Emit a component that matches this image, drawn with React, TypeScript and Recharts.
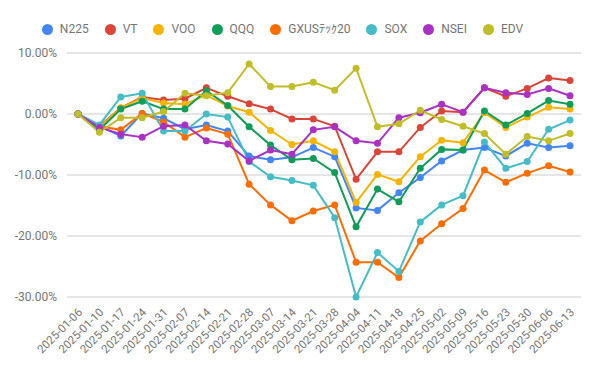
import React from 'react';
import { LineChart, Line, XAxis, YAxis, CartesianGrid, Legend } from 'recharts';

const dates = [
  '2025-01-06', '2025-01-10', '2025-01-17', '2025-01-24', '2025-01-31', '2025-02-07',
  '2025-02-14', '2025-02-21', '2025-02-28', '2025-03-07', '2025-03-14', '2025-03-21',
  '2025-03-28', '2025-04-04', '2025-04-11', '2025-04-18', '2025-04-25', '2025-05-02',
  '2025-05-09', '2025-05-16', '2025-05-23', '2025-05-30', '2025-06-06', '2025-06-13',
];

// 週次リターン (%)
const n225 = [0, -2.0, -3.6, 0.1, -0.7, -2.5, -1.8, -2.8, -6.9, -7.5, -7.1, -5.5, -7.0, -15.4, -15.8, -12.9, -10.4, -7.7, -5.9, -5.5, -6.9, -4.8, -5.5, -5.2];
const vt = [0, -2.0, 1.0, 2.8, 2.3, 2.5, 4.3, 2.9, 1.7, 0.8, -0.8, -0.8, -2.0, -10.7, -6.2, -6.2, -2.2, 0.5, 0.3, 4.3, 2.9, 4.2, 5.9, 5.5];
const voo = [0, -2.2, 1.0, 2.6, 1.8, 1.6, 3.1, 1.3, 0.3, -2.7, -5.0, -4.4, -6.2, -14.5, -9.9, -11.1, -7.0, -4.3, -4.7, 0.2, -2.2, -0.5, 1.1, 0.8];
const qqq = [0, -2.6, 0.8, 2.1, 0.8, 0.8, 3.8, 1.4, -2.1, -5.1, -7.5, -7.3, -9.6, -18.5, -12.3, -14.4, -8.9, -5.8, -5.9, 0.5, -1.8, 0.1, 2.2, 1.6];
const gxus = [0, -2.0, -2.6, 0.1, -1.3, -3.8, -2.3, -3.3, -11.5, -14.9, -17.5, -15.9, -14.9, -24.3, -24.3, -26.8, -20.8, -18.0, -15.5, -9.2, -11.2, -9.7, -8.5, -9.5];
const sox = [0, -1.8, 2.8, 3.4, -2.8, -2.8, 0, -0.5, -7.8, -10.3, -10.9, -11.7, -17.0, -30.0, -22.7, -25.8, -17.7, -14.9, -13.4, -4.6, -8.9, -7.8, -2.5, -1.0];
const nsei = [0, -2.2, -3.3, -3.8, -2.0, -1.8, -4.4, -4.9, -7.7, -5.9, -6.6, -2.6, -2.1, -4.4, -4.8, -0.6, 0.2, 1.6, 0.3, 4.3, 3.5, 3.2, 4.2, 3.0];
const edv = [0, -3.0, -0.6, -0.6, 0.4, 3.4, 3.0, 3.5, 8.2, 4.5, 4.5, 5.2, 3.9, 7.5, -2.1, -1.6, 0.6, -0.9, -2.0, -3.2, -6.6, -3.7, -4.4, -3.2];

const yTicks = [10, 0, -10, -20, -30];

const series = [
  { key: 'N225', values: n225, color: '#4285F4' },
  { key: 'VT', values: vt, color: '#DB4437' },
  { key: 'VOO', values: voo, color: '#F4B400' },
  { key: 'QQQ', values: qqq, color: '#0F9D58' },
  { key: 'GXUSﾃｯｸ20', values: gxus, color: '#FF6D00' },
  { key: 'SOX', values: sox, color: '#46BDC6' },
  { key: 'NSEI', values: nsei, color: '#AB30C4' },
  { key: 'EDV', values: edv, color: '#C0BD28' },
];

const data = dates.map((d, i) => {
  const row: Record<string, string | number> = { date: d };
  series.forEach((s) => {
    row[s.key] = s.values[i];
  });
  return row;
});

const font = 'Roboto, Arial, sans-serif';

const DateTick = (props: any) => {
  const { x, y, payload } = props;
  return (
    <text
      x={x + 5}
      y={y + 8}
      transform={`rotate(-45, ${x + 5}, ${y + 8})`}
      textAnchor="end"
      fontSize={11.5}
      fill="#757575"
      fontFamily={font}
    >
      {payload.value}
    </text>
  );
};

export default function App() {
  return (
    <div style={{ position: 'absolute', left: 0, top: 0, background: '#fff' }}>
      <LineChart
        width={600}
        height={371}
        data={data}
        margin={{ top: 22, right: 19, bottom: 0, left: 0 }}
      >
        <CartesianGrid vertical={false} stroke="#cccccc" />
        <Legend
          verticalAlign="top"
          align="center"
          iconType="circle"
          iconSize={11}
          height={31}
          itemSorter={(item: any) => series.findIndex((s) => s.key === item.value)}
          wrapperStyle={{ fontFamily: font, fontSize: 12, color: '#757575' }}
          formatter={(value: string) => (
            <span style={{ color: '#757575', marginLeft: 3, marginRight: 6 }}>{value}</span>
          )}
        />
        <XAxis
          dataKey="date"
          interval={0}
          height={74}
          tick={<DateTick />}
          tickLine={false}
          axisLine={false}
          padding={{ left: 11, right: 11 }}
        />
        <YAxis
          width={67}
          domain={[-30, 10]}
          ticks={yTicks}
          tickFormatter={(v: number) => `${v.toFixed(2)}%`}
          tick={{ fontSize: 12, fill: '#757575', fontFamily: font }}
          tickLine={false}
          axisLine={false}
          tickMargin={4}
        />
        {series.map((s) => (
          <Line
            key={s.key}
            dataKey={s.key}
            type="linear"
            stroke={s.color}
            strokeWidth={2}
            dot={{ r: 3.5, fill: s.color, stroke: s.color, strokeWidth: 0 }}
            isAnimationActive={false}
          />
        ))}
      </LineChart>
    </div>
  );
}
